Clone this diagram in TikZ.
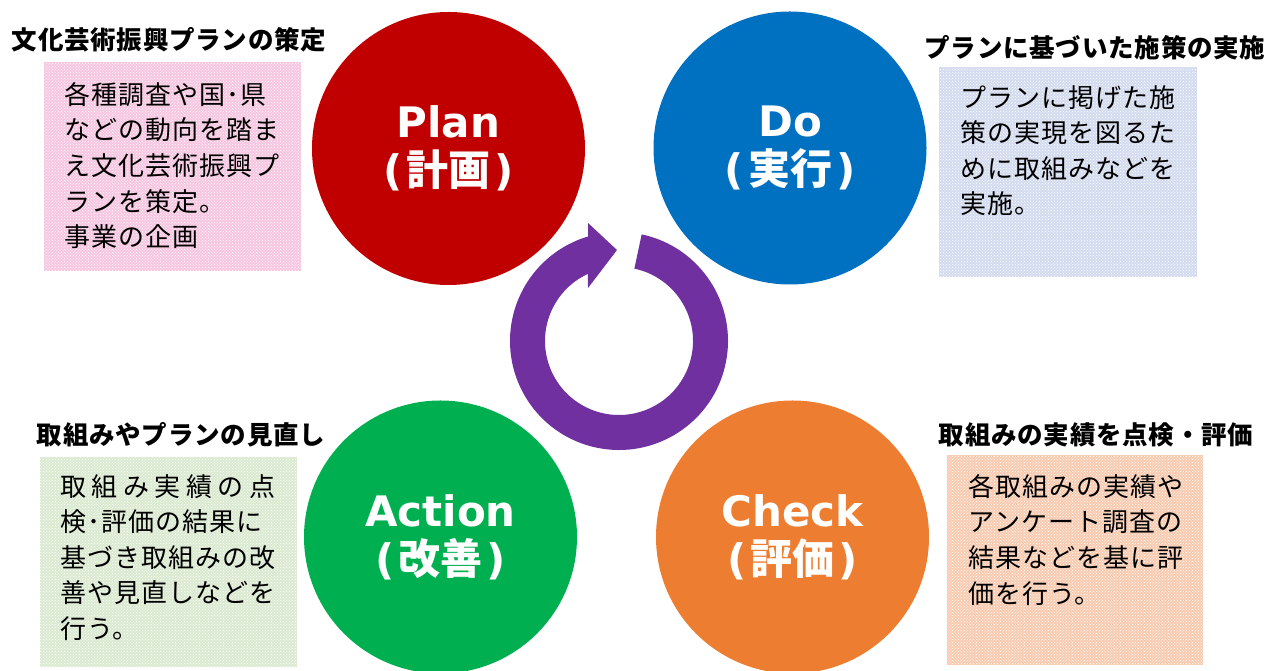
\documentclass[tikz,border=0pt]{standalone}
\usepackage{fontspec}
\setmainfont{Noto Sans CJK JP}
\newfontfamily\bodyjp{Noto Sans CJK JP}[LetterSpace=4]
\newfontfamily\headjp{Noto Sans CJK JP}[LetterSpace=3]
\newfontfamily\circjp{Noto Sans CJK JP}
\newfontfamily\circlat{DejaVu Sans}
\usetikzlibrary{patterns}
\definecolor{planred}{HTML}{C00000}
\definecolor{doblue}{HTML}{0070C0}
\definecolor{actgreen}{HTML}{00B050}
\definecolor{chkorange}{HTML}{ED7D31}
\definecolor{ringpurple}{HTML}{7030A0}
\definecolor{pinkbox}{HTML}{F7C6E1}
\definecolor{bluebox}{HTML}{D3DBEF}
\definecolor{greenbox}{HTML}{DAEAD0}
\definecolor{orangebox}{HTML}{F8CBB0}
\newcommand\jp[1]{\kern4pt{\circjp\bfseries #1}\kern4pt}

\begin{document}
\begin{tikzpicture}[x=1pt,y=1pt,
  phase/.style={circle,minimum size=273pt,inner sep=0,text=white,align=center,
    font=\circlat\bfseries\fontsize{42}{48}\selectfont},
  heading/.style={inner sep=0,font=\headjp\bfseries\fontsize{25.5}{28}\selectfont},
  note/.style={rectangle,inner sep=0,anchor=north west,preaction={fill=#1},
    pattern=crosshatch dots,pattern color=white},
  notetext/.style={inner sep=0,anchor=north west,align=left,
    font=\bodyjp\fontsize{26}{35.6}\selectfont}]
\useasboundingbox (0,0) rectangle (1286,671);

\foreach \name/\x/\y/\col/\txt in {plan/448.5/522.5/planred/{Plan\\(\jp{計画})},
  do/790/523/doblue/{Do\\(\jp{実行})},
  action/440.5/134/actgreen/{Action\\(\jp{改善})},
  check/792.5/134/chkorange/{Check\\(\jp{評価})}}
\node[phase,fill=\col] (\name) at (\x,\y) {\txt};

% cycle arrow
\fill[ringpurple,shift={(619,330)}] (78:109) arc[start angle=78,end angle=-253.5,radius=109]
  -- (-31,118) -- (-2,91) -- (-31,53) -- (-245.2:74) arc[start angle=-245.2,end angle=78,radius=74] -- cycle;

\node[note=pinkbox,minimum width=257pt,minimum height=209pt] (planbox) at (44,609) {};
\node[note=bluebox,minimum width=258pt,minimum height=210pt] (dobox) at (939,604) {};
\node[note=greenbox,minimum width=257pt,minimum height=210pt] (actionbox) at (40,214) {};
\node[note=orangebox,minimum width=256pt,minimum height=210pt] (checkbox) at (947,216) {};

\node[notetext] (plantext) at (64,589) {各種調査や国･県\\などの動向を踏ま\\え文化芸術振興プ\\ランを策定。\\事業の企画};
\node[notetext] (dotext) at (960,586) {プランに掲げた施\\策の実現を図るた\\めに取組みなどを\\実施。};
\node[notetext] (actiontext) at (60,197) {\makebox[215pt][s]{取\hfill 組\hfill み\hfill 実\hfill 績\hfill の\hfill 点}\\検･評価の結果に\\基づき取組みの改\\善や見直しなどを\\行う。};
\node[notetext] (checktext) at (968,197) {各取組みの実績や\\アンケート調査の\\結果などを基に評\\価を行う。};

\node[heading] (plantitle) at (169,631.5) {文化芸術振興プランの策定};
\node[heading] (dotitle) at (1095,623.5) {プランに基づいた施策の実施};
\node[heading] (actiontitle) at (181,236) {取組みやプランの見直し};
\node[heading] (checktitle) at (1096,236.5) {取組みの実績を点検・評価};
\end{tikzpicture}
\end{document}
